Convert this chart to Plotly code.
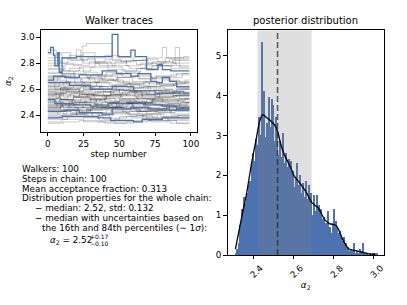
import plotly.graph_objects as go

# ---------------- data ----------------
# walker traces: change points (step, value) of each walker's piecewise-constant chain
gray_walkers = [
    [(0,2.55),(5,2.57),(12,2.58),(19,2.54),(30,2.52),(41,2.55),(55,2.56),(66,2.53),(80,2.50),(91,2.52)],
    [(0,2.62),(8,2.66),(16,2.63),(25,2.60),(36,2.62),(47,2.64),(58,2.61),(70,2.58),(90,2.60)],
    [(0,2.47),(7,2.49),(15,2.45),(24,2.47),(35,2.50),(48,2.48),(60,2.46),(72,2.48),(85,2.44)],
    [(0,2.70),(10,2.74),(18,2.71),(28,2.68),(40,2.71),(52,2.72),(63,2.68),(76,2.70),(90,2.72)],
    [(0,2.42),(9,2.44),(20,2.40),(31,2.42),(44,2.43),(55,2.41),(66,2.39),(77,2.42),(88,2.41)],
    [(0,2.58),(6,2.53),(14,2.55),(22,2.56),(40,2.50),(50,2.52),(63,2.53),(72,2.51),(84,2.49)],
    [(0,2.80),(14,2.83),(25,2.80),(36,2.78),(47,2.81),(58,2.82),(70,2.80),(82,2.84)],
    [(0,2.50),(9,2.52),(18,2.54),(33,2.48),(45,2.50),(57,2.51),(68,2.49),(79,2.47),(93,2.50)],
    [(0,2.35),(10,2.37),(25,2.35),(40,2.34),(55,2.35),(70,2.36),(90,2.34)],
    [(0,2.65),(5,2.60),(16,2.62),(27,2.63),(38,2.60),(50,2.57),(62,2.59),(74,2.60),(87,2.57)],
    [(0,2.45),(9,2.50),(19,2.48),(29,2.46),(48,2.49),(59,2.47),(71,2.45),(83,2.46),(95,2.47)],
    [(0,2.75),(12,2.79),(24,2.93),(27,2.95),(45,2.82),(55,2.78),(65,2.80),(76,2.78),(87,2.82)],
    [(0,2.53),(8,2.55),(16,2.57),(27,2.55),(38,2.54),(50,2.52),(61,2.50),(73,2.53),(86,2.52)],
    [(0,2.60),(11,2.57),(21,2.59),(31,2.62),(42,2.60),(53,2.59),(65,2.57),(78,2.55),(90,2.56)],
    [(0,2.40),(7,2.43),(16,2.41),(26,2.39),(36,2.41),(46,2.42),(57,2.40),(69,2.38),(91,2.40)],
    [(0,2.68),(9,2.70),(19,2.64),(30,2.66),(42,2.67),(53,2.64),(64,2.62),(76,2.64),(89,2.65)],
    [(0,2.57),(13,2.60),(22,2.58),(32,2.55),(44,2.57),(56,2.58),(66,2.55),(77,2.54),(90,2.55)],
    [(0,2.48),(10,2.46),(21,2.44),(31,2.46),(41,2.47),(51,2.45),(62,2.43),(72,2.44),(83,2.45)],
    [(0,2.84),(8,2.88),(16,2.82),(28,2.84),(40,2.86),(50,2.84),(60,2.82),(70,2.84),(80,2.92),(83,2.84),(95,2.85)],
    [(0,2.44),(14,2.47),(25,2.45),(37,2.45),(48,2.46),(59,2.48),(70,2.45),(81,2.46)],
    [(0,2.63),(11,2.65),(23,2.68),(33,2.65),(43,2.63),(55,2.64),(67,2.66),(78,2.63),(90,2.61)],
    [(0,2.51),(10,2.48),(22,2.50),(34,2.52),(44,2.50),(54,2.49),(73,2.51),(82,2.49),(92,2.48)],
    [(0,2.38),(8,2.40),(17,2.41),(28,2.39),(39,2.37),(50,2.39),(62,2.40),(73,2.38),(84,2.36)],
    [(0,2.72),(15,2.76),(25,2.73),(35,2.70),(45,2.72),(55,2.74),(64,2.71),(72,2.69),(94,2.72)],
    [(0,2.56),(9,2.52),(18,2.54),(28,2.57),(39,2.55),(51,2.53),(63,2.55),(75,2.56),(88,2.53)],
    [(0,2.46),(10,2.48),(20,2.50),(33,2.48),(45,2.47),(56,2.49),(68,2.50),(80,2.48),(92,2.46)],
    [(0,2.78),(11,2.74),(22,2.77),(33,2.80),(45,2.78),(57,2.76),(68,2.78),(79,2.80),(90,2.78)],
    [(0,2.59),(9,2.61),(18,2.63),(29,2.60),(39,2.58),(50,2.60),(61,2.61),(72,2.59),(85,2.57)],
    [(0,2.43),(12,2.46),(21,2.44),(30,2.42),(41,2.44),(53,2.45),(64,2.43),(76,2.42),(89,2.43)],
    [(0,2.66),(7,2.70),(15,2.68),(24,2.65),(36,2.67),(48,2.69),(59,2.66),(71,2.64),(96,2.67)],
    [(0,2.52),(15,2.49),(26,2.51),(37,2.53),(47,2.51),(58,2.50),(69,2.52),(80,2.52),(91,2.50)],
    [(0,2.34),(11,2.35),(22,2.36),(35,2.35),(47,2.34),(60,2.36),(72,2.35),(86,2.34)],
    [(0,2.61),(14,2.58),(25,2.60),(36,2.62),(48,2.59),(60,2.57),(71,2.59),(83,2.60)],
    [(0,2.49),(8,2.52),(17,2.50),(26,2.48),(38,2.50),(50,2.51),(62,2.49),(74,2.48),(97,2.50)],
    [(0,2.87),(10,2.84),(20,2.90),(23,2.83),(33,2.81),(44,2.80),(55,2.82),(66,2.83),(77,2.81),(88,2.80)],
    [(0,2.54),(9,2.52),(19,2.50),(30,2.53),(41,2.55),(52,2.53),(63,2.52),(75,2.54),(87,2.55)],
    [(0,2.41),(13,2.44),(24,2.42),(35,2.40),(46,2.42),(57,2.43),(69,2.41),(81,2.39)],
    [(0,2.69),(16,2.72),(27,2.69),(38,2.67),(49,2.69),(61,2.70),(73,2.68),(86,2.66)],
    [(0,2.47),(11,2.44),(21,2.46),(32,2.48),(43,2.46),(55,2.45),(66,2.46),(78,2.47),(90,2.45)],
    [(0,2.58),(10,2.60),(21,2.61),(33,2.58),(46,2.56),(57,2.58),(69,2.59),(80,2.57),(93,2.56)],
    [(0,2.76),(9,2.72),(19,2.74),(30,2.77),(42,2.75),(54,2.73),(65,2.76),(77,2.78),(89,2.92),(92,2.77)],
    [(0,2.44),(8,2.43),(17,2.42),(28,2.44),(40,2.45),(52,2.43),(64,2.41),(75,2.43),(87,2.44)],
    [(0,2.64),(12,2.60),(23,2.62),(34,2.65),(45,2.63),(56,2.61),(67,2.62),(79,2.63),(91,2.61)],
    [(0,2.50),(11,2.51),(23,2.53),(36,2.51),(49,2.49),(61,2.50),(73,2.52),(84,2.51),(95,2.50)],
    [(0,2.37),(14,2.39),(25,2.38),(36,2.36),(47,2.37),(59,2.38),(71,2.36),(84,2.37)],
    [(0,2.82),(9,2.80),(18,2.78),(29,2.81),(40,2.83),(51,2.81),(62,2.79),(73,2.81),(85,2.83)],
    [(0,2.55),(10,2.59),(20,2.57),(31,2.55),(41,2.56),(52,2.58),(63,2.56),(75,2.54),(88,2.55)],
    [(0,2.46),(9,2.44),(19,2.43),(30,2.45),(42,2.46),(53,2.44),(65,2.43),(77,2.44),(90,2.45)],
    [(0,2.62),(15,2.65),(26,2.62),(37,2.60),(47,2.62),(58,2.63),(70,2.61),(82,2.59),(94,2.60)],
    [(0,2.53),(8,2.56),(18,2.54),(29,2.52),(40,2.53),(51,2.55),(62,2.53),(74,2.51),(96,2.53)],
    [(0,2.90),(6,2.84),(15,2.86),(25,2.88),(33,2.80),(42,2.77),(52,2.74),(62,2.76),(73,2.78),(86,2.76)],
    [(0,2.39),(10,2.40),(20,2.42),(31,2.40),(43,2.38),(55,2.39),(67,2.41),(79,2.39),(91,2.38)],
    [(0,2.67),(13,2.63),(24,2.65),(35,2.68),(46,2.66),(57,2.64),(68,2.65),(80,2.67),(92,2.65)],
    [(0,2.48),(16,2.51),(27,2.49),(38,2.47),(50,2.49),(62,2.50),(75,2.48),(88,2.47)],
    [(0,2.57),(11,2.54),(22,2.56),(33,2.58),(44,2.56),(55,2.55),(66,2.56),(77,2.57),(89,2.55)],
    [(0,2.73),(10,2.71),(19,2.69),(30,2.71),(41,2.73),(52,2.70),(64,2.68),(75,2.70),(86,2.71)],
    [(0,2.45),(9,2.48),(19,2.46),(28,2.44),(38,2.46),(49,2.47),(60,2.45),(70,2.44),(94,2.46)],
    [(0,2.60),(12,2.58),(24,2.56),(35,2.58),(47,2.60),(58,2.58),(69,2.56),(80,2.57),(92,2.58)],
    [(0,2.51),(6,2.47),(17,2.52),(34,2.46),(52,2.49),(68,2.44),(83,2.47)],
    [(0,2.56),(9,2.61),(22,2.55),(44,2.59),(61,2.54),(78,2.58),(92,2.53)],
    [(0,2.43),(11,2.41),(27,2.45),(45,2.41),(63,2.44),(86,2.40)],
    [(0,2.70),(13,2.66),(29,2.70),(49,2.65),(71,2.62),(88,2.64)],
]
blue_walkers = [
    [(0,2.88),(2,2.92),(4,2.86),(5,2.78),(7,2.88),(8,2.73),(10,2.84),(20,2.85),(45,3.02),
     (49,2.85),(58,2.90),(61,2.85),(69,2.75),(77,2.79),(80,2.75),(86,2.74)],
    [(0,2.67),(4,2.70),(12,2.69),(22,2.71),(38,2.74),(48,2.72),(58,2.70),(63,2.72),(72,2.66),
     (76,2.65),(80,2.69),(85,2.66),(90,2.62)],
    [(0,2.65),(15,2.63),(30,2.60),(45,2.62),(60,2.59),(75,2.57),(88,2.58),(95,2.57)],
    [(0,2.52),(5,2.49),(18,2.48),(30,2.47),(42,2.49),(55,2.50),(67,2.48),(80,2.47),(90,2.45)],
    [(0,2.43),(12,2.44),(22,2.42),(38,2.41),(45,2.45),(58,2.46),(70,2.45),(85,2.44)],
    [(0,2.38),(10,2.39),(35,2.38),(44,2.36),(60,2.35),(66,2.37),(80,2.38)],
]
n_steps = 100
x_ticks_left = [0, 25, 50, 75, 100]
y_ticks_left = [2.4, 2.6, 2.8, 3.0]

# posterior histogram (density), 100 bins
bin_start = 2.308
bin_width = 0.0071
hist_density = [
    0.05,0.15,0.30,0.75,1.15,1.05,1.45,1.30,1.55,1.75,
    1.85,2.30,2.55,2.35,2.90,2.75,3.45,3.00,5.35,3.55,
    4.10,2.95,3.30,3.95,3.20,3.90,3.75,2.85,3.45,3.10,
    2.50,2.85,2.45,3.05,2.30,2.55,2.20,2.40,1.95,2.35,
    2.10,1.70,1.90,2.30,1.75,2.00,1.55,1.80,1.45,1.85,
    1.40,1.75,1.30,1.55,1.00,1.50,1.10,1.50,1.25,1.05,
    1.15,0.90,0.95,0.80,0.65,1.10,0.70,0.55,0.80,1.15,
    0.85,0.70,0.55,0.60,0.45,0.35,0.45,0.30,0.15,0.20,
    0.10,0.15,0.10,0.30,0.05,0.10,0.05,0.15,0.10,0.30,
    0.05,0.05,0.05,0.00,0.05,0.00,0.05,0.00,0.05,0.05,
]
kde_x = [2.310,2.326,2.342,2.366,2.390,2.415,2.431,2.447,2.465,2.485,2.504,2.520,2.536,2.553,
         2.585,2.601,2.633,2.666,2.690,2.723,2.755,2.779,2.812,2.828,2.844,2.876,2.909,2.942,
         2.974,3.006]
kde_y = [0.15,0.56,0.97,1.55,2.29,2.95,3.36,3.52,3.45,3.37,3.27,3.11,2.78,2.53,
         2.20,2.00,1.79,1.55,1.32,1.18,0.89,0.79,0.74,0.60,0.40,0.15,0.11,0.07,
         0.03,0.02]
median = 2.52
p16 = 2.42
p84 = 2.69
x_ticks_right = [2.4, 2.6, 2.8, 3.0]
y_ticks_right = [0, 1, 2, 3, 4, 5]

info_lines = [
    "Walkers: 100",
    "Steps in chain: 100",
    "Mean acceptance fraction: 0.313",
    "Distribution properties for the whole chain:",
]

# ---------------- figure ----------------
W, H = 407, 305
FONT = "DejaVu Sans"
BLUE = "#4c72b0"
FS = 8.8
fig = go.Figure()

def expand(w):
    xs = [p[0] for p in w] + [n_steps - 1]
    ys = [p[1] for p in w] + [w[-1][1]]
    return xs, ys

for w in gray_walkers:
    xs, ys = expand(w)
    fig.add_trace(go.Scatter(x=xs, y=ys, mode="lines", line=dict(color="rgba(0,0,0,0.24)", width=0.9, shape="hv"),
                             xaxis="x", yaxis="y", showlegend=False, hoverinfo="skip"))
for w in blue_walkers:
    xs, ys = expand(w)
    fig.add_trace(go.Scatter(x=xs, y=ys, mode="lines", line=dict(color=BLUE, width=1.3, shape="hv"),
                             xaxis="x", yaxis="y", showlegend=False, hoverinfo="skip"))

centers = [bin_start + bin_width * (i + 0.5) for i in range(len(hist_density))]
fig.add_trace(go.Bar(x=centers, y=hist_density, width=bin_width, marker=dict(color=BLUE, line=dict(width=0)),
                     xaxis="x2", yaxis="y2", showlegend=False, hoverinfo="skip"))
ytop2 = 5.64
fig.add_trace(go.Scatter(x=[p16, p84, p84, p16, p16], y=[0, 0, ytop2, ytop2, 0], mode="lines", fill="toself",
                         fillcolor="rgba(128,128,128,0.25)", line=dict(width=0),
                         xaxis="x2", yaxis="y2", showlegend=False, hoverinfo="skip"))
fig.add_trace(go.Scatter(x=kde_x, y=kde_y, mode="lines",
                         line=dict(color="black", width=1.3, shape="spline", smoothing=0.6),
                         xaxis="x2", yaxis="y2", showlegend=False, hoverinfo="skip"))
fig.add_trace(go.Scatter(x=[median, median], y=[0, ytop2], mode="lines",
                         line=dict(color="rgba(40,40,40,0.75)", width=1.5, dash="6px,3px"),
                         xaxis="x2", yaxis="y2", showlegend=False, hoverinfo="skip"))

axis_common = dict(showline=True, linecolor="black", linewidth=0.8, mirror=True, ticks="outside",
                   ticklen=3.5, tickwidth=0.8, tickcolor="black", showgrid=False, zeroline=False,
                   tickfont=dict(family=FONT, size=FS, color="black"))

def px2x(p):
    return p / W

def px2y(p):
    return 1 - p / H

fig.update_layout(
    width=W, height=H, margin=dict(l=0, r=0, t=0, b=0),
    paper_bgcolor="white", plot_bgcolor="white", bargap=0,
    font=dict(family=FONT, size=FS, color="black"),
    xaxis=dict(domain=[px2x(41), px2x(198)], range=[-4.95, 103.95], tickvals=x_ticks_left,
               title=dict(text="step number", font=dict(size=FS), standoff=1), anchor="y", **axis_common),
    yaxis=dict(domain=[px2y(134), px2y(31)], range=[2.274, 3.05], tickvals=y_ticks_left,
               ticktext=[f"{v:.1f}" for v in y_ticks_left],
               title=dict(text="<i>α</i><sub>2</sub>", font=dict(size=FS), standoff=7), anchor="x", **axis_common),
    xaxis2=dict(domain=[px2x(229.3), px2x(386.7)], range=[2.271, 3.05], tickvals=x_ticks_right,
                ticktext=[f"{v:.1f}" for v in x_ticks_right], tickangle=-45, ticklabelshift=7,
                title=dict(text="<i>α</i><sub>2</sub>", font=dict(size=FS), standoff=2), anchor="y2", **axis_common),
    yaxis2=dict(domain=[px2y(259.3), px2y(30.7)], range=[0, ytop2], tickvals=y_ticks_right,
                anchor="x2", **axis_common),
)

ann = []
ann.append(dict(text="Walker traces", x=px2x(119.5), y=px2y(21), xref="paper", yref="paper",
                showarrow=False, font=dict(size=10), xanchor="center", yanchor="middle"))
ann.append(dict(text="posterior distribution", x=px2x(308), y=px2y(21), xref="paper", yref="paper",
                showarrow=False, font=dict(size=10), xanchor="center", yanchor="middle"))
for i, t in enumerate(info_lines):
    ann.append(dict(text=t, x=px2x(20.5), y=px2y(171.7 + 10 * i), xref="paper", yref="paper",
                    showarrow=False, xanchor="left", yanchor="middle", font=dict(size=FS)))
ann.append(dict(text="− median: 2.52, std: 0.132", x=px2x(33), y=px2y(211.7), xref="paper", yref="paper",
                showarrow=False, xanchor="left", yanchor="middle", font=dict(size=FS)))
ann.append(dict(text="− median with uncertainties based on", x=px2x(33), y=px2y(221.7), xref="paper",
                yref="paper", showarrow=False, xanchor="left", yanchor="middle", font=dict(size=FS)))
ann.append(dict(text="the 16th and 84th percentiles (∼ 1<i>σ</i>):", x=px2x(40), y=px2y(231.7), xref="paper",
                yref="paper", showarrow=False, xanchor="left", yanchor="middle", font=dict(size=FS)))
ann.append(dict(text=f"<i>α</i><sub>2</sub> = {median:.2f}", x=px2x(48), y=px2y(245), xref="paper",
                yref="paper", showarrow=False, xanchor="left", yanchor="middle", font=dict(size=FS)))
ann.append(dict(text=f"+{p84 - median:.2f}", x=px2x(89), y=px2y(240.5), xref="paper",
                yref="paper", showarrow=False, xanchor="left", yanchor="middle", font=dict(size=6)))
ann.append(dict(text=f"−{median - p16:.2f}", x=px2x(89), y=px2y(247.5), xref="paper",
                yref="paper", showarrow=False, xanchor="left", yanchor="middle", font=dict(size=6)))
fig.update_layout(annotations=ann)

fig.write_html("out.html", config={"displayModeBar": False},
               post_script="document.body.style.margin='0';")
